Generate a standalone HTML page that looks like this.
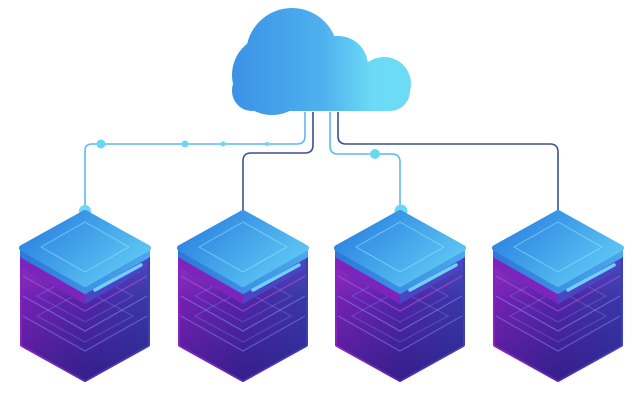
<!DOCTYPE html>
<html><head><meta charset="utf-8"><style>html,body{margin:0;padding:0;background:#fff;width:642px;height:400px;overflow:hidden}</style></head>
<body>
<svg width="642" height="400" viewBox="0 0 642 400" xmlns="http://www.w3.org/2000/svg">
<defs>
<linearGradient id="cl" gradientUnits="userSpaceOnUse" x1="232" y1="0" x2="412" y2="0">
<stop offset="0" stop-color="#3a92e6"/><stop offset="0.5" stop-color="#4fb0ee"/><stop offset="0.78" stop-color="#6bdaf6"/><stop offset="1" stop-color="#6cdcf6"/></linearGradient>
<linearGradient id="body" x1="0" y1="0" x2="1" y2="0">
<stop offset="0" stop-color="#8a22c0"/><stop offset="0.5" stop-color="#5a28b0"/><stop offset="1" stop-color="#3c3eb4"/></linearGradient>
<linearGradient id="bodyv" x1="0" y1="0" x2="0" y2="1">
<stop offset="0" stop-color="#fff" stop-opacity="0"/><stop offset="0.5" stop-color="#2a1a80" stop-opacity="0.2"/><stop offset="1" stop-color="#1a1a70" stop-opacity="0.6"/></linearGradient>
<linearGradient id="top" x1="0" y1="0.2" x2="1" y2="0.8">
<stop offset="0" stop-color="#2a80e0"/><stop offset="1" stop-color="#62cdf5"/></linearGradient>
<linearGradient id="rim" x1="0" y1="0" x2="1" y2="0">
<stop offset="0" stop-color="#2e78d8"/><stop offset="1" stop-color="#4aa8ee"/></linearGradient>
<g id="srv">
<path d="M-63,252 L0,216 L63,252 L63,345 L0,380 L-63,345 Z" fill="url(#body)" stroke="url(#body)" stroke-width="4" stroke-linejoin="round"/>
<path d="M-63,252 L0,216 L63,252 L63,345 L0,380 L-63,345 Z" fill="url(#bodyv)"/>
<g fill="none" stroke-width="1.2">
<path d="M-62,276 L0,311 L62,276" stroke="#c050e0" stroke-opacity="0.6"/>
<path d="M-62,296 L0,331 L62,296" stroke="#7fa0f0" stroke-opacity="0.5"/>
<path d="M-62,316 L0,351 L62,316" stroke="#7fa0f0" stroke-opacity="0.45"/>
<path d="M-48,296 L0,270 L48,296 L0,322 Z" stroke="#8ab0ff" stroke-opacity="0.25"/>
<path d="M-48,316 L0,290 L48,316 L0,342 Z" stroke="#8ab0ff" stroke-opacity="0.25"/>
</g>
<path d="M-63,256 L0,292 L63,256 L63,268 L0,304 L-63,268 Z" fill="#7d24bc"/>
<path d="M0,292 L63,256 L63,268 L0,304 Z" fill="#4b44c4"/>
<path d="M-63,248 L0,213 L63,248 L63,256 L0,292 L-63,256 Z" fill="url(#rim)" stroke="url(#rim)" stroke-width="4" stroke-linejoin="round"/>
<path d="M-63,248 L0,213 L63,248 L0,284 Z" fill="url(#top)" stroke="url(#top)" stroke-width="6" stroke-linejoin="round"/>
<path d="M-44,247 L0,222 L44,247 L0,272 Z" fill="none" stroke="#9be4fb" stroke-opacity="0.6" stroke-width="1" stroke-linejoin="round"/>
<line x1="10" y1="290" x2="56" y2="265" stroke="#6fd0f8" stroke-width="3.5" stroke-linecap="round"/>
</g>
</defs>
<g fill="url(#cl)">
<circle cx="292" cy="54" r="46"/>
<circle cx="338" cy="66" r="30"/>
<circle cx="384" cy="84" r="27"/>
<circle cx="272" cy="75" r="40"/>
<rect x="232" y="70" width="178" height="41" rx="20"/>
</g>
<g fill="none" stroke-width="1.6">
<path d="M305,112 V136 Q305,144 297,144 H92 Q85,144 85,151 V212" stroke="#5fb8ee"/>
<path d="M313,112 V145 Q313,153 305,153 H251 Q243,153 243,161 V215" stroke="#3a4f96"/>
<path d="M330,112 V146 Q330,154 338,154 H392 Q400,154 400,162 V212" stroke="#5fb8ee"/>
<path d="M338,112 V136 Q338,144 346,144 H550 Q558,144 558,152 V214" stroke="#3a4f96"/>
</g>
<g fill="#6ad8f5">
<circle cx="101" cy="144" r="4.5"/><circle cx="185" cy="144" r="3.5"/><circle cx="223" cy="144" r="2.5"/><circle cx="267" cy="144" r="2"/>
<circle cx="375" cy="154" r="5"/>
<circle cx="85" cy="211" r="6"/><circle cx="401" cy="211" r="6.5"/>
</g>
<use href="#srv" x="85"/><use href="#srv" x="243"/><use href="#srv" x="400"/><use href="#srv" x="558"/>
</svg>
</body></html>
